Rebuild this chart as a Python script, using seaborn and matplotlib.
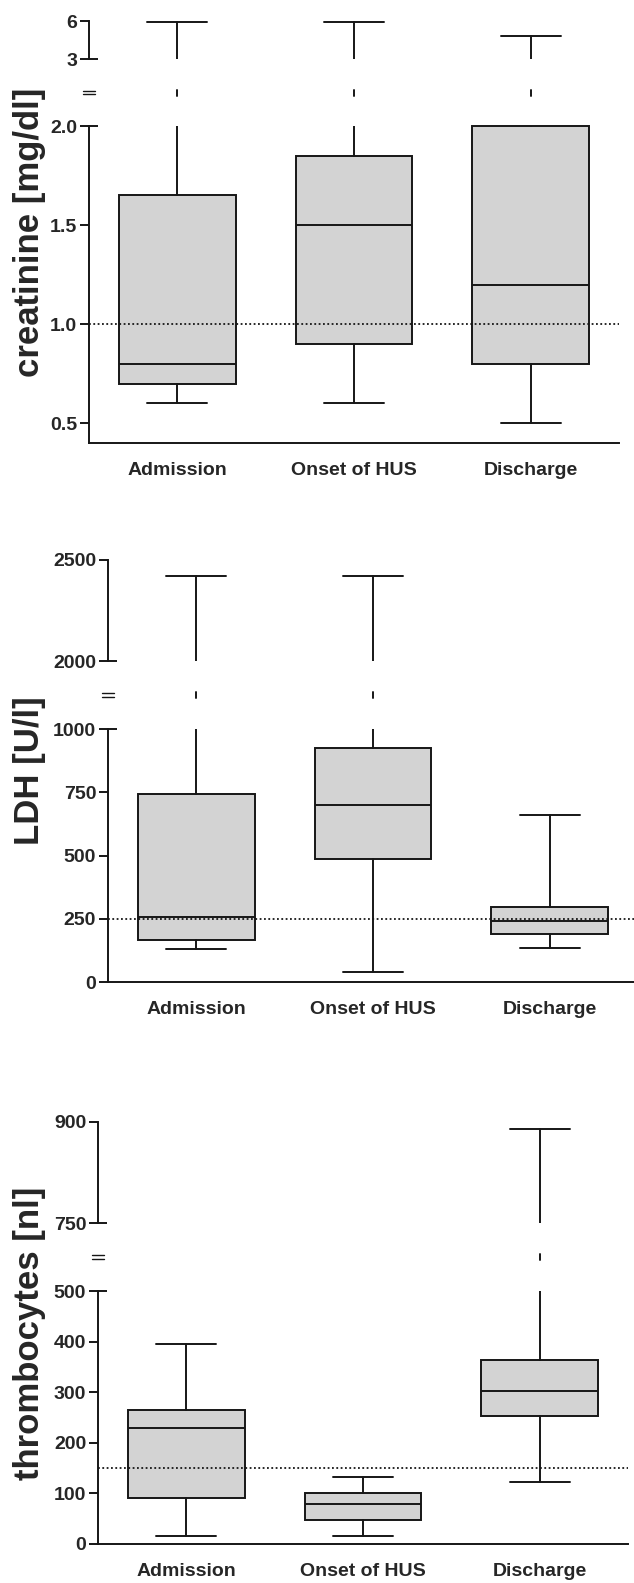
import matplotlib
matplotlib.use("Agg")
import matplotlib.pyplot as plt
import matplotlib.transforms as mtransforms
from matplotlib.lines import Line2D
import seaborn as sns

groups = ["Admission", "Onset of HUS", "Discharge"]

# box summaries: whisker low, Q1, median, Q3, whisker high
crea_lo = [0.6, 0.6, 0.5]
crea_q1 = [0.7, 0.9, 0.8]
crea_med = [0.8, 1.5, 1.2]
crea_q3 = [1.65, 1.85, 2.0]
crea_hi = [5.9, 5.9, 4.8]

ldh_lo = [130, 40, 135]
ldh_q1 = [165, 485, 190]
ldh_med = [255, 700, 242]
ldh_q3 = [745, 925, 298]
ldh_hi = [2420, 2420, 660]

thr_lo = [16, 16, 123]
thr_q1 = [90, 48, 252]
thr_med = [229, 79, 302]
thr_q3 = [264, 101, 364]
thr_hi = [396, 133, 890]

# normal limits (dotted lines)
ref_values = [1.0, 250, 150]

# y tick labels of the lower and upper axis segments
crea_ticks_low = ["0.5", "1.0", "1.5", "2.0"]
crea_ticks_up = ["3", "6"]
ldh_ticks_low = ["0", "250", "500", "750", "1000"]
ldh_ticks_up = ["2000", "2500"]
thr_ticks_low = ["0", "100", "200", "300", "400", "500"]
thr_ticks_up = ["750", "900"]

ylabels = ["creatinine [mg/dl]", "LDH [U/l]", "thrombocytes [nl]"]

sns.set_style("ticks")
plt.rcParams["font.family"] = ["Liberation Sans", "DejaVu Sans"]
plt.rcParams["font.weight"] = "bold"

W, H = 634, 1583
fig = plt.figure(figsize=(W / 100, H / 100), dpi=100)

box_fill = "#d3d3d3"
ink = "#161616"
lw = 1.4


def rect(left, top, right, bottom):
    return [left / W, 1 - bottom / H, (right - left) / W, (bottom - top) / H]


def draw_boxes(ax, lo, q1, med, q3, hi):
    stats = [dict(whislo=a, q1=b, med=c, q3=d, whishi=e, fliers=[])
             for a, b, c, d, e in zip(lo, q1, med, q3, hi)]
    art = ax.bxp(stats, positions=range(len(stats)), widths=0.66, capwidths=0.34,
                 patch_artist=True, showfliers=False,
                 boxprops=dict(facecolor=box_fill, edgecolor=ink, linewidth=lw),
                 medianprops=dict(color=ink, linewidth=lw),
                 whiskerprops=dict(color=ink, linewidth=lw),
                 capprops=dict(color=ink, linewidth=lw))
    return art


def set_ticks(ax, labels, inout_value):
    vals = [float(t) for t in labels]
    ax.set_yticks([v for v in vals if v != inout_value],
                  labels=[t for t in labels if float(t) != inout_value])
    ax.set_yticks([inout_value], labels=[t for t in labels if float(t) == inout_value],
                  minor=True)
    ax.tick_params(axis="y", which="major", direction="out", length=6.5, width=lw,
                   color=ink, labelsize=14, pad=2)
    ax.tick_params(axis="y", which="minor", direction="inout", length=13, width=lw,
                   color=ink, labelsize=14, pad=2)


panels = [
    # left, right, upper segment (top, bottom, ylim), lower segment (top, bottom, ylim)
    dict(left=89, right=619, up=(21, 59, (3, 6)), low=(126, 443, (0.4, 2.0)),
         data=(crea_lo, crea_q1, crea_med, crea_q3, crea_hi),
         ticks_low=crea_ticks_low, ticks_up=crea_ticks_up),
    dict(left=108, right=638, up=(560, 661, (2000, 2500)), low=(729, 982, (0, 1000)),
         data=(ldh_lo, ldh_q1, ldh_med, ldh_q3, ldh_hi),
         ticks_low=ldh_ticks_low, ticks_up=ldh_ticks_up),
    dict(left=98, right=628, up=(1122, 1223, (750, 900)), low=(1291, 1544, (0, 500)),
         data=(thr_lo, thr_q1, thr_med, thr_q3, thr_hi),
         ticks_low=thr_ticks_low, ticks_up=thr_ticks_up),
]

for p, ref, ylab in zip(panels, ref_values, ylabels):
    ut, ub, ulim = p["up"]
    lt, lb, llim = p["low"]
    ax_up = fig.add_axes(rect(p["left"], ut, p["right"], ub))
    ax_lo = fig.add_axes(rect(p["left"], lt, p["right"], lb))

    for ax in (ax_up, ax_lo):
        art = draw_boxes(ax, *p["data"])
        ax.set_xlim(-0.5, 2.5)
        ax.set_facecolor("none")
        for s in ax.spines.values():
            s.set_linewidth(lw)
            s.set_color(ink)
    # keep the full box outline when Q3 sits right on the break
    for box in art["boxes"]:
        box.set_clip_on(False)

    ax_up.set_ylim(*ulim)
    ax_lo.set_ylim(*llim)
    sns.despine(ax=ax_up, bottom=True)
    sns.despine(ax=ax_lo)
    ax_up.tick_params(axis="x", bottom=False, labelbottom=False)

    set_ticks(ax_up, p["ticks_up"], ulim[0])
    set_ticks(ax_lo, p["ticks_low"], llim[1])

    ax_lo.set_xticks(range(len(groups)), labels=groups)
    ax_lo.tick_params(axis="x", length=0, labelsize=14, pad=14)

    ax_lo.axhline(ref, color=ink, linewidth=1.3, linestyle=(0, (1, 1.4)), zorder=5)

    # broken-axis gap: short whisker dash and "=" sign on the spine
    mid = 1 - (ub + lt) / 2 / H
    trans = mtransforms.blended_transform_factory(ax_lo.transData, fig.transFigure)
    for i, hi in enumerate(p["data"][4]):
        if hi > llim[1]:
            ax_lo.add_line(Line2D([i, i], [mid - 3 / H, mid + 3 / H], transform=trans,
                                  color=ink, linewidth=lw, clip_on=False))
    for dy in (-1.8, 1.8):
        fig.add_artist(Line2D([(p["left"] - 6) / W, (p["left"] + 6) / W],
                              [mid + dy / H, mid + dy / H], color=ink, linewidth=1.0))

    fig.text(30 / W, 1 - (ut + lb) / 2 / H, ylab, rotation=90, fontsize=25,
             fontweight="bold", ha="center", va="center")

fig.savefig("out.png", dpi=100)
